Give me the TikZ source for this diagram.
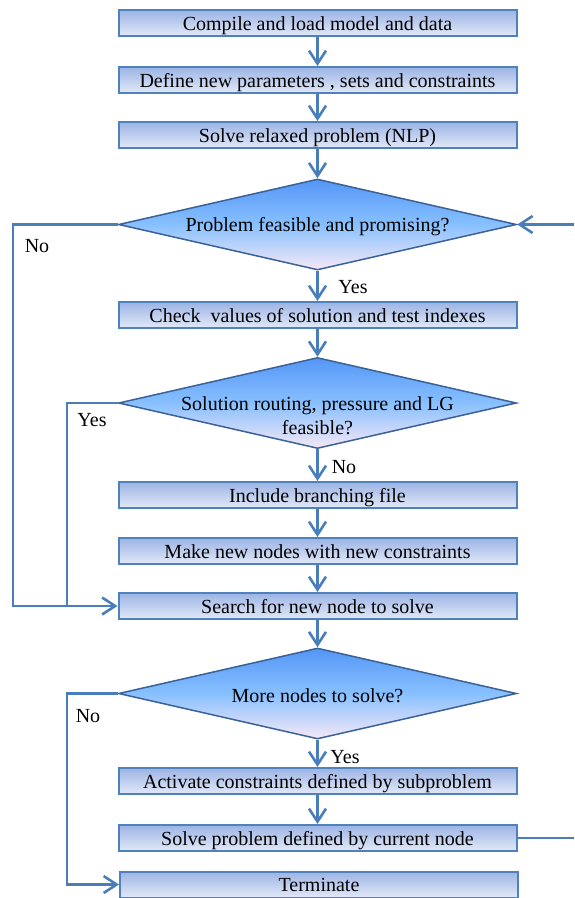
\documentclass[tikz,border=0pt]{standalone}
\usepackage{fontspec}
\setmainfont{Liberation Serif}
\usetikzlibrary{shapes.geometric,arrows.meta}
\definecolor{lineblue}{RGB}{74,126,187}
\definecolor{boxborder}{RGB}{79,129,189}
\definecolor{boxtop}{RGB}{156,180,228}
\definecolor{boxbot}{RGB}{226,233,248}
\definecolor{dectop}{RGB}{84,150,246}
\definecolor{decmid}{RGB}{136,192,255}
\definecolor{decbot}{RGB}{246,232,246}
\definecolor{decborder}{RGB}{58,98,150}
\begin{document}
\begin{tikzpicture}[x=1pt,y=-1pt,
  font=\fontsize{20}{24}\selectfont,
  procbox/.style={draw=boxborder, line width=2pt, rectangle, minimum width=398pt,
    minimum height=26pt, inner sep=0pt, text height=14.5pt, text depth=0pt,
    top color=boxtop, bottom color=boxbot},
  decision/.style={draw=decborder, line width=1.5pt, diamond, minimum width=398pt,
    minimum height=91pt, inner sep=0pt, top color=dectop, bottom color=decbot, middle color=decmid},
  dectext/.style={align=center, inner sep=0pt},
  lbl/.style={inner sep=0pt},
  conn/.style={draw=lineblue, line width=2.6pt},
  arr/.style={conn, -{Straight Barb[length=13pt,width=17pt]}}
]
\useasboundingbox (0,0) rectangle (574,898);

\node[procbox] (b1) at (317.5,23) {Compile and load model and data};
\node[procbox] (b2) at (317.5,80) {Define new parameters , sets and constraints};
\node[procbox] (b3) at (317.5,135) {Solve relaxed problem (NLP)};
\node[decision] (d1) at (317.5,224.5) {};
\node[dectext] (t1) at (317.5,227) {Problem feasible and promising?};
\node[procbox] (b4) at (317.5,315) {Check~ values of solution and test indexes};
\node[decision] (d2) at (317.5,403) {};
\node[dectext] (t2) at (317.5,416) {Solution routing, pressure and LG\\feasible?};
\node[procbox] (b5) at (317.5,495) {Include branching file};
\node[procbox] (b6) at (317.5,551) {Make new nodes with new constraints};
\node[procbox] (b7) at (317.5,606) {Search for new node to solve};
\node[decision] (d3) at (317.5,693.5) {};
\node[dectext] (t3) at (317.5,696) {More nodes to solve?};
\node[procbox] (b8) at (317.5,781) {Activate constraints defined by subproblem};
\node[procbox] (b9) at (317.5,838) {Solve problem defined by current node};
\node[procbox] (b10) at (319,884.5) {Terminate};

\node[lbl] (yes1) at (353,287) {Yes};
\node[lbl] (no2) at (344,467) {No};
\node[lbl] (yes3) at (345,757) {Yes};
\node[lbl] (no1) at (37,246) {No};
\node[lbl] (yes2) at (92,420) {Yes};
\node[lbl] (no3) at (88,716) {No};

\coordinate (l1) at (13,224.5);
\coordinate (l1b) at (13,606);
\coordinate (l2) at (67,403);
\coordinate (l2b) at (67,606);
\coordinate (l3) at (67,693.5);
\coordinate (l3b) at (67,884.5);
\coordinate (r1) at (574,838);
\coordinate (r2) at (574,224.5);

\draw[arr] (b1) -- (b2);
\draw[arr] (b2) -- (b3);
\draw[arr] (b3) -- (d1);
\draw[arr] (d1) -- (b4);
\draw[arr] (b4) -- (d2);
\draw[arr] (d2) -- (b5);
\draw[arr] (b5) -- (b6);
\draw[arr] (b6) -- (b7);
\draw[arr] (b7) -- (d3);
\draw[arr] (d3) -- (b8);
\draw[arr] (b8) -- (b9);

\draw[arr] (d1.west) -- (l1) -- (l1b) -- (b7.west);
\draw[conn] (d2.west) -- (l2) -- (l2b);
\draw[arr] (d3.west) -- (l3) -- (l3b) -- (b10.west);
\draw[conn] (b9.east) -- (r1);
\draw[arr] (r2) -- (d1.east);
\end{tikzpicture}
\end{document}
